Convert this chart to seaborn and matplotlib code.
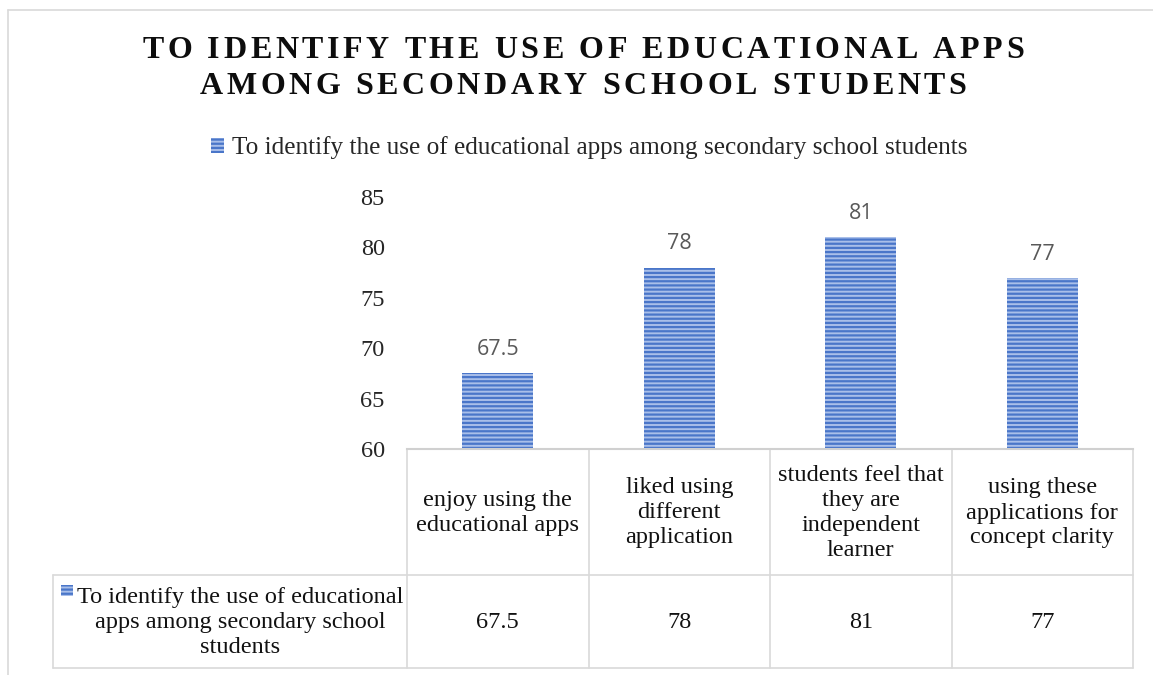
import numpy as np
import pandas as pd
import matplotlib
matplotlib.use("Agg")
import matplotlib.pyplot as plt
import seaborn as sns
from matplotlib.patches import Patch, Rectangle

# data
categories = ["enjoy using the\neducational apps",
              "liked using\ndifferent\napplication",
              "students feel that\nthey are\nindependent\nlearner",
              "using these\napplications for\nconcept clarity"]
values = [67.5, 78, 81, 77]
value_labels = ["67.5", "78", "81", "77"]
y_ticks = [60, 65, 70, 75, 80, 85]
series_name = "To identify the use of educational apps among secondary school students"
series_name_wrapped = "To identify the use of educational\napps among secondary school\nstudents"
title_lines = ["TO IDENTIFY THE USE OF EDUCATIONAL APPS",
               "AMONG SECONDARY SCHOOL STUDENTS"]

sns.set_style("white")
plt.rcParams["font.family"] = ["Liberation Serif", "DejaVu Serif"]
plt.rcParams["hatch.linewidth"] = 1.6

BAR_FACE = "#A9BFE9"
BAR_HATCH = "#4A76C9"
GRID = "#D9D9D9"
FS = 17.5
LS = 1.25

W, H = 1153, 675
fig = plt.figure(figsize=(W / 100, H / 100), dpi=100)


def fx(px):
    return px / W


def fy(py):
    return 1 - py / H


# plot area (pixels)
x0, x1, ytop, ybot = 407, 1133, 197, 449
ax = fig.add_axes([fx(x0), fy(ybot), (x1 - x0) / W, (ybot - ytop) / H])
df = pd.DataFrame({"cat": categories, "val": values})
sns.barplot(data=df, x="cat", y="val", ax=ax, width=0.39,
            color=BAR_FACE, saturation=1)
for p in ax.patches:
    p.set_hatch("----")
    p.set_edgecolor(BAR_HATCH)
    p.set_linewidth(0)
ax.set_ylim(60, 85)
ax.set_xlim(-0.5, 3.5)
ax.set_yticks(y_ticks)
ax.tick_params(axis="y", length=0, pad=16, labelsize=FS)
ax.set_xticks([])
ax.set_xlabel("")
ax.set_ylabel("")
for s in ["top", "right", "left"]:
    ax.spines[s].set_visible(False)
ax.spines["bottom"].set_color("#D0D0D0")
ax.spines["bottom"].set_linewidth(1.5)

for i, (v, lab) in enumerate(zip(values, value_labels)):
    ax.annotate(lab, (i, v), xytext=(0, 17), textcoords="offset points",
                ha="center", va="center", fontsize=15.5, color="#595959",
                family=["Open Sans", "DejaVu Sans"])

# overlay in pixel coordinates for border, data table, title
ov = fig.add_axes([0, 0, 1, 1], zorder=-1)
ov.set_xlim(0, W)
ov.set_ylim(H, 0)
ov.axis("off")

# chart border
ov.plot([8, W], [10, 10], color=GRID, lw=1.2)
ov.plot([8, 8], [10, H], color=GRID, lw=1.2)

# data table
cols = [x0 + (x1 - x0) * k / 4 for k in range(5)]
row_mid, row_bot = 575, 668
leg_left = 53
for c in cols:
    ov.plot([c, c], [ybot, row_bot], color=GRID, lw=1.2)
ov.plot([leg_left, leg_left], [row_mid, row_bot], color=GRID, lw=1.2)
ov.plot([leg_left, x1], [row_mid, row_mid], color=GRID, lw=1.2)
ov.plot([leg_left, x1], [row_bot, row_bot], color=GRID, lw=1.2)

for k, (cat, lab) in enumerate(zip(categories, value_labels)):
    cx = (cols[k] + cols[k + 1]) / 2
    ov.text(cx, (ybot + row_mid) / 2 + 1, cat, ha="center", va="center",
            fontsize=FS, linespacing=LS, color="#111111")
    ov.text(cx, (row_mid + row_bot) / 2 + 1, lab, ha="center", va="center",
            fontsize=FS, color="#111111")

ov.add_patch(Rectangle((61, 585), 12, 11, facecolor=BAR_FACE,
                       edgecolor=BAR_HATCH, hatch="----", lw=0))
ov.text(240, (row_mid + row_bot) / 2 + 1, series_name_wrapped, ha="center",
        va="center", fontsize=FS, linespacing=LS, color="#111111")

# legend
fig.legend(handles=[Patch(facecolor=BAR_FACE, edgecolor=BAR_HATCH,
                          hatch="----", lw=0)],
           labels=[series_name], loc="center",
           bbox_to_anchor=(fx(589), fy(148)), frameon=False, fontsize=18.2,
           handlelength=0.55, handleheight=0.55, handletextpad=0.3)

# title with letter spacing
renderer = fig.canvas.get_renderer()


def spaced_text(text, xc, yc, size, spacing):
    widths = []
    for ch in text:
        if ch == " ":
            widths.append(size * 0.25 * 100 / 72)
            continue
        t = fig.text(0, 0, ch, fontsize=size, fontweight="bold",
                     family="Liberation Serif")
        widths.append(t.get_window_extent(renderer).width)
        t.remove()
    total = sum(widths) + spacing * (len(text) - 1)
    x = xc - total / 2
    for ch, w in zip(text, widths):
        if ch != " ":
            fig.text(x / W, fy(yc), ch, fontsize=size, fontweight="bold",
                     family="Liberation Serif", ha="left", va="center",
                     color="#0D0D0D")
        x += w + spacing


spaced_text(title_lines[0], 583, 50, 23, 3.6)
spaced_text(title_lines[1], 583, 87, 23, 3.6)

fig.savefig("out.png", dpi=100)
